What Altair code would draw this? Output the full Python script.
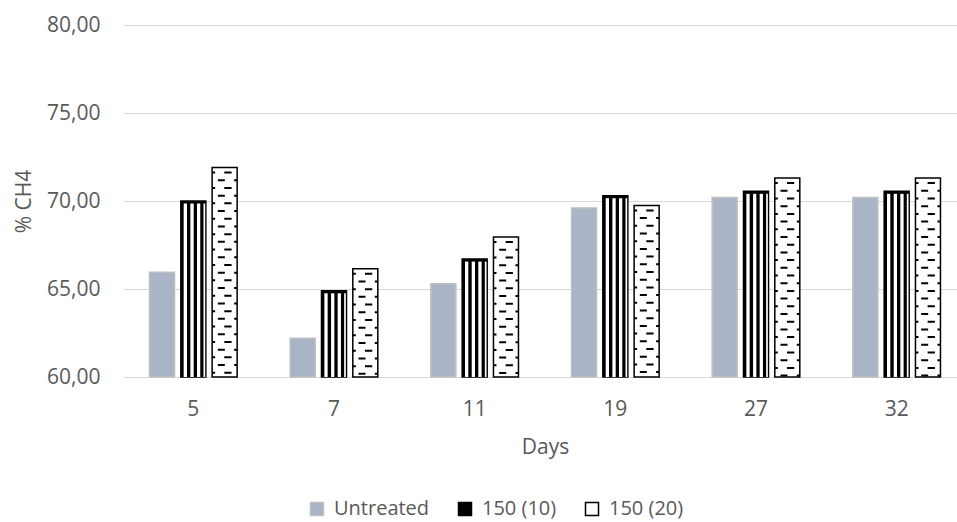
import altair as alt
import pandas as pd

# Methane content (% CH4) per sampling day and treatment
days = ["5", "7", "11", "19", "27", "32"]
series = ["Untreated", "150 (10)", "150 (20)"]
untreated = [65.95, 62.20, 65.30, 69.60, 70.20, 70.20]
treated_10 = [70.00, 64.90, 66.70, 70.30, 70.55, 70.55]
treated_20 = [71.90, 66.15, 67.95, 69.75, 71.30, 71.30]
y_ticks = [60, 65, 70, 75, 80]
y_floor = 60

rows = []
for name, vals in zip(series, [untreated, treated_10, treated_20]):
    for d, v in zip(days, vals):
        rows.append({"Day": d, "Series": name, "CH4": v})
df = pd.DataFrame(rows)

FONT = "Open Sans"
TEXT = "#595959"
GRID = "#D9D9D9"
BAR_W = 25
SHIFT = {"Untreated": -31.3, "150 (10)": 0.0, "150 (20)": 31.3}

x_enc = alt.X(
    "Day:N",
    sort=days,
    scale=alt.Scale(domain=days, range=[0, 844], paddingInner=0, paddingOuter=0),
    axis=alt.Axis(
        title="Days", labelAngle=0, domain=False, ticks=False, grid=False,
        labelPadding=21, labelFont=FONT, labelFontSize=21, labelColor=TEXT,
        titleFont=FONT, titleFontSize=21, titleFontWeight="normal",
        titleColor=TEXT, titleY=59,
    ),
)
y_enc = alt.Y(
    "CH4:Q",
    scale=alt.Scale(domain=[60, 80], nice=False, zero=False),
    axis=alt.Axis(
        title="% CH4", values=y_ticks,
        labelExpr="replace(format(datum.value, '.2f'), '.', ',')",
        grid=True, gridColor=GRID, gridWidth=1, domain=False, ticks=False,
        labelPadding=23, labelFont=FONT, labelFontSize=21, labelColor=TEXT,
        titleFont=FONT, titleFontSize=21, titleFontWeight="normal",
        titleColor=TEXT, titleX=-89, titleY=176,
    ),
)
y2_enc = alt.Y2(datum=y_floor)

legend = alt.Legend(
    title=None, orient="none", legendX=184, legendY=474,
    direction="horizontal", symbolType="square", symbolSize=169,
    symbolStrokeWidth=1.5, labelFont=FONT, labelFontSize=20,
    labelColor=TEXT, labelOffset=7, columnPadding=25, padding=0,
)
fill_enc = alt.Fill(
    "Series:N",
    scale=alt.Scale(domain=series, range=["#A9B4C7", "#000000", "#FFFFFF"]),
    legend=legend,
)
stroke_enc = alt.Stroke(
    "Series:N",
    scale=alt.Scale(domain=series, range=["#BFBFBF", "#000000", "#000000"]),
    legend=legend,
)

base = alt.Chart(df)


def bars(name):
    return (
        base.transform_filter(alt.datum.Series == name)
        .mark_bar(width=BAR_W, xOffset=SHIFT[name], strokeWidth=1.5)
        .encode(x=x_enc, y=y_enc, y2=y2_enc, fill=fill_enc, stroke=stroke_enc)
    )


def stripe(name, offset, width, color, top=2.5, dash=None, dash_offset=0):
    props = dict(
        color=color, strokeWidth=width, xOffset=SHIFT[name] + offset,
        yOffset=top, strokeCap="butt",
    )
    if dash is not None:
        props["strokeDash"] = dash
        props["strokeDashOffset"] = dash_offset
    return (
        base.transform_filter(alt.datum.Series == name)
        .mark_rule(**props)
        .encode(x=x_enc, y=y_enc, y2=y2_enc)
    )


layers = [bars(s) for s in series]

# vertical white stripes over the black 150 (10) bars
for off, w in [(-8.0, 3.3), (-1.3, 3.3), (5.3, 3.3), (11.0, 1.7)]:
    layers.append(stripe("150 (10)", off, w, "white"))

# staggered short dashes inside the white 150 (20) bars
for off, w, phase in [(3.3, 7.3, 0), (-11.0, 3.0, 0), (-3.3, 7.0, 7.7), (11.0, 3.0, 7.7)]:
    layers.append(
        stripe("150 (20)", off, w, "black", top=4, dash=[2, 13.4], dash_offset=phase)
    )

chart = (
    alt.layer(*layers)
    .properties(
        width=834,
        height=352,
        autosize=alt.AutoSizeParams(type="none"),
        padding={"left": 123, "top": 25, "right": 0, "bottom": 145},
        background="white",
    )
    .configure_view(stroke=None)
)

chart.save("out.html", embed_options={"renderer": "svg", "actions": False})
